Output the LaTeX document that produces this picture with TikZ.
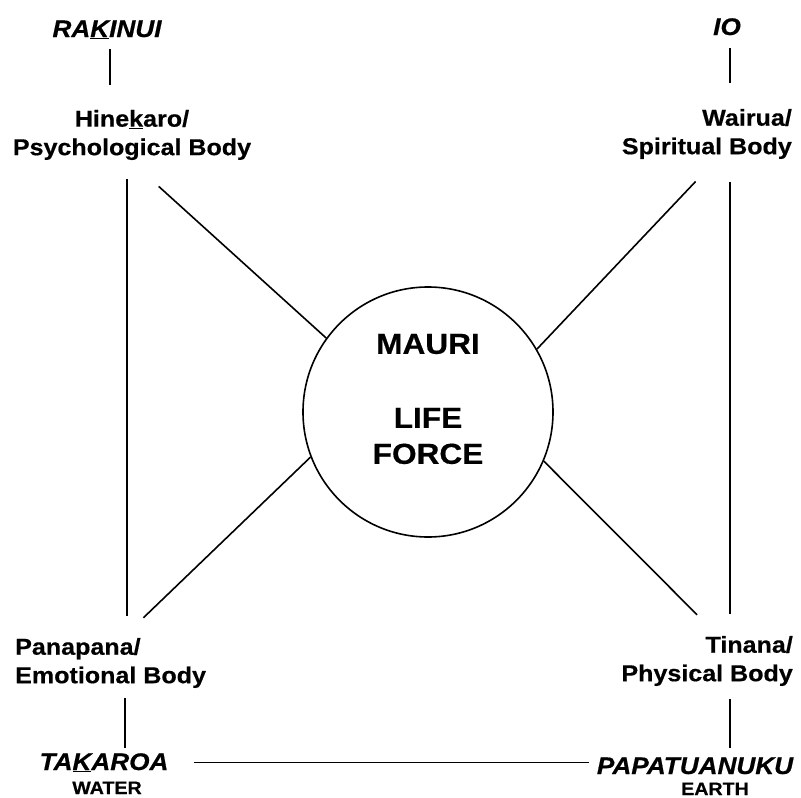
\documentclass[tikz,border=0pt]{standalone}
\usepackage{fontspec}
\setmainfont{Liberation Sans}
\newfontfamily\lblfont[FakeStretch=1.09,FakeBold=0.5]{Liberation Sans}

\tikzset{
  body/.style={font=\lblfont\bfseries\fontsize{23}{28.5}\selectfont, inner sep=2pt},
  deity/.style={font=\lblfont\bfseries\itshape\fontsize{24}{28}\selectfont, inner sep=2pt, anchor=base},
  element/.style={font=\lblfont\bfseries\fontsize{18}{22}\selectfont, inner sep=2pt, anchor=base},
  link/.style={line width=1.6pt},
}

\begin{document}
\begin{tikzpicture}[x=1pt,y=-1pt]
\useasboundingbox (0,0) rectangle (801,798);

% atua at the corners
\node[deity] (rakinui) at (107,37) {RA\underline{K}INUI};
\node[deity] (io) at (727,35) {IO};
\node[deity] (takaroa) at (104,770) {TA\underline{K}AROA};
\node[deity] (papa) at (695,774) {PAPATUANUKU};
\node[element] (water) at (107,794) {WATER};
\node[element] (earth) at (715,795) {EARTH};

% the four bodies
\node[body, align=center] (hine) at (132,135) {Hine\underline{k}aro/\\Psychological Body};
\node[body, align=right, anchor=east] (wairua) at (794,134) {Wairua/\\Spiritual Body};
\node[body, align=left, anchor=west] (pana) at (13,663) {Panapana/\\Emotional Body};
\node[body, align=right, anchor=east] (tinana) at (795,661) {Tinana/\\Physical Body};

% life force in the middle
\node[circle, draw, line width=1.6pt, minimum size=250pt, inner sep=0pt] (mauri) at (428,412) {};
\node[font=\lblfont\bfseries\fontsize{29}{36}\selectfont, align=center] (mauritxt) at (428,399) {MAURI\\[38pt]LIFE\\FORCE};

% short ties
\draw[link, shorten <=8pt, shorten >=23pt] ([xshift=3pt]rakinui.south) -- ([xshift=3pt]rakinui.south |- hine.north);
\draw[link, shorten <=11pt, shorten >=24pt] ([xshift=3pt]io.south) -- ([xshift=3pt]io.south |- wairua.north);
\draw[link, shorten <=8pt, shorten >=3pt] ([xshift=21pt]takaroa.north |- pana.south) -- ([xshift=21pt]takaroa.north);
\draw[link, shorten <=11pt, shorten >=7pt] ([xshift=3pt]io.south |- tinana.south) -- ([xshift=3pt]io.south |- papa.north);

% sides of the square
\draw[link, shorten <=17pt, shorten >=20pt] ([xshift=-5pt]hine.south) -- ([xshift=-5pt]hine.south |- pana.north);
\draw[link, shorten <=21pt, shorten >=20pt] ([xshift=3pt]io.south |- wairua.south) -- ([xshift=3pt]io.south |- tinana.north);
\draw[link, shorten <=23pt, shorten >=6pt] (takaroa.east) -- (takaroa.east -| papa.west);

% spokes to the centre
\draw[link, shorten <=36pt] (hine.south) -- (mauri.144);
\draw[link, shorten <=28pt] ([xshift=8pt]wairua.south) -- (mauri.30);
\draw[link, shorten <=26pt] ([xshift=14pt]pana.north) -- (mauri.201);
\draw[link, shorten <=27pt] ([xshift=9pt]tinana.north) -- (mauri.337);
\end{tikzpicture}
\end{document}
